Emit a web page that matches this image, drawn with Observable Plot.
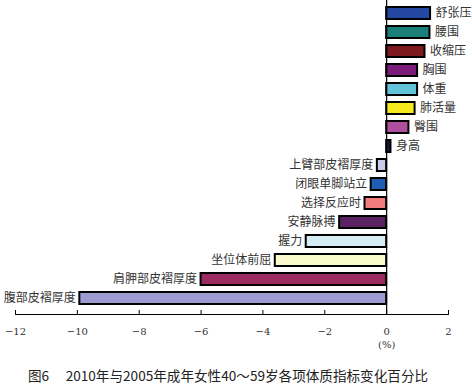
<!DOCTYPE html>
<html>
<head>
<meta charset="utf-8">
<script src="https://cdn.jsdelivr.net/npm/d3@7"></script>
<script src="https://cdn.jsdelivr.net/npm/@observablehq/plot@0.6"></script>
<style>
  html, body { margin: 0; padding: 0; background: #fff; }
  #chart svg { display: block; }
  #caption { width: 456px; text-align: center; font-family: "Noto Sans CJK SC", sans-serif; font-size: 13.6px; color: #222; line-height: 27px; white-space: pre; }
</style>
</head>
<body>
<div id="chart"></div>
<div id="caption">图6　 2010年与2005年成年女性40～59岁各项体质指标变化百分比</div>
<script>
const categories = ["舒张压","腰围","收缩压","胸围","体重","肺活量","臀围","身高","上臂部皮褶厚度","闭眼单脚站立","选择反应时","安静脉搏","握力","坐位体前屈","肩胛部皮褶厚度","腹部皮褶厚度"];
const values = [1.42, 1.40, 1.24, 1.0, 1.0, 0.92, 0.72, 0.14, -0.3, -0.5, -0.7, -1.52, -2.6, -3.6, -6.0, -9.92];
const colors = ["#2447a3","#1b8079","#7d1a1e","#7b1c7a","#62c4d8","#f7ea1c","#b04f9e","#1b1b40","#cacae9","#1d5eb2","#f17c7c","#5b2361","#d5edf4","#fbfacb","#9c2b61","#9b9bd2"];
const xTicks = [-12, -10, -8, -6, -4, -2, 0, 2];
const unitLabel = "(%)";

const data = categories.map((c, i) => ({cat: c, value: values[i], color: colors[i]}));
const W = 472, H = 362, axisY = 314;

const chart = Plot.plot({
  width: W,
  height: H,
  marginTop: 0,
  marginBottom: H - axisY,
  marginLeft: 15,
  marginRight: 24,
  style: {fontFamily: "\"Noto Sans CJK SC\", sans-serif", background: "#fff"},
  x: {domain: [-12, 2]},
  y: {type: "band", domain: categories, range: [3, 307], paddingInner: 0.38, paddingOuter: 0, axis: null},
  marks: [
    Plot.barX(data, {x: "value", y: "cat", fill: "color", stroke: "#000", strokeWidth: 2}),
    Plot.ruleX([0], {stroke: "#000", strokeWidth: 1.2}),
    Plot.frame({anchor: "bottom", stroke: "#000", strokeWidth: 1}),
    Plot.ruleX(xTicks, {x: d => d, insetTop: axisY - 4, stroke: "#000", strokeWidth: 1}),
    Plot.axisX({ticks: xTicks, tickSize: 0, tickPadding: 13, tickFormat: d => d < 0 ? "\u2212" + Math.abs(d) : String(d), fontSize: 10, fill: "#333", label: null, fontFamily: "\"DejaVu Serif\", serif"}),
    Plot.text(data.filter(d => d.value >= 0), {x: "value", y: "cat", text: "cat", textAnchor: "start", dx: 5, fontSize: 12, fill: "#333"}),
    Plot.text(data.filter(d => d.value < 0), {x: "value", y: "cat", text: "cat", textAnchor: "end", dx: -4, fontSize: 12, fill: "#333"}),
    Plot.text([unitLabel], {x: 0, frameAnchor: "bottom", dy: 33, text: d => d, fontSize: 10, fill: "#333", fontFamily: "\"DejaVu Serif\", serif"})
  ]
});
document.getElementById("chart").appendChild(chart);
</script>
</body>
</html>
